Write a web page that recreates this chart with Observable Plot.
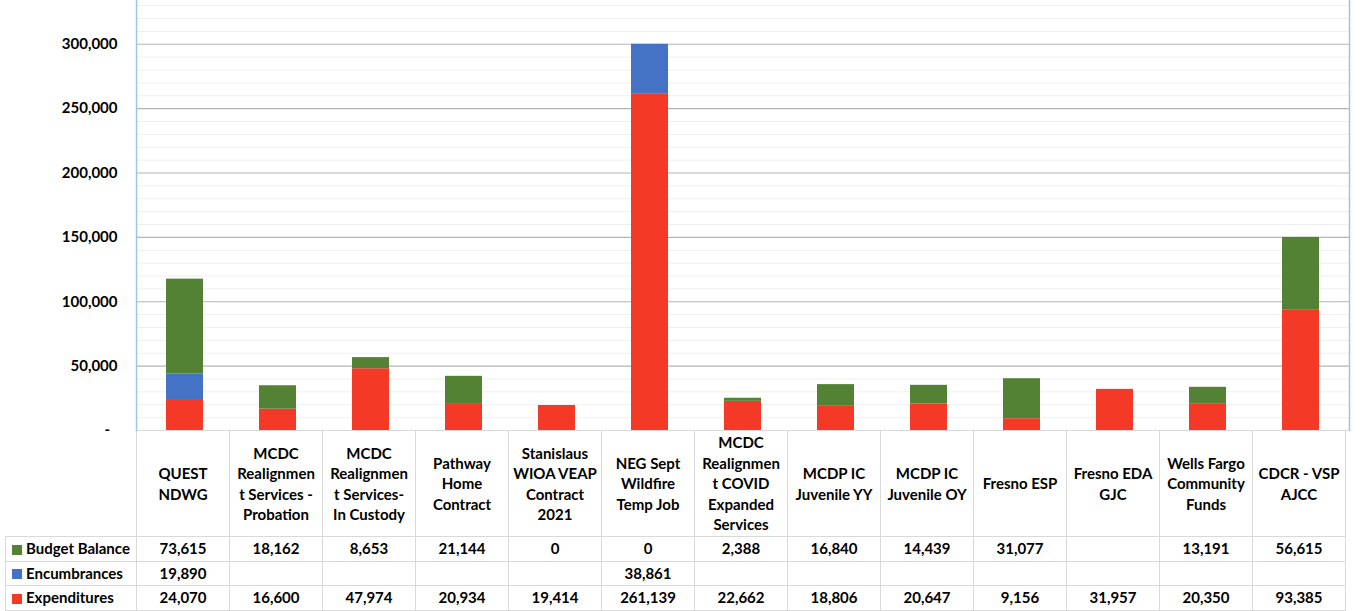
<!DOCTYPE html>
<html>
<head>
<meta charset="utf-8">
<script src="https://cdn.jsdelivr.net/npm/d3@7"></script>
<script src="https://cdn.jsdelivr.net/npm/@observablehq/plot@0.6"></script>
<style>
  html, body { margin: 0; padding: 0; background: #fff; }
  body { font-family: Lato, "Open Sans", sans-serif; color: #000; }
  #chart svg { display: block; font-weight: bold; }
  #data-table {
    border-collapse: collapse;
    table-layout: fixed;
    margin-left: 5px;
    margin-top: -10px;
    position: relative;
    font: bold 15px Lato, sans-serif;
  }
  #data-table td {
    border: 1px solid #d9d9d9;
    text-align: center;
    padding: 0;
    white-space: pre;
    line-height: 20.5px;
    overflow: hidden;
  }
  #data-table tr.head td { border-top: none; height: 105px; }
  #data-table tr.head td.corner { border-left: none; }
  #data-table tr.row td { height: 23.5px; line-height: 23.5px; }
  #data-table td.series { text-align: left; padding-left: 6px; }
  .swatch { display: inline-block; width: 10px; height: 10px; margin-right: 4px; vertical-align: -0.5px; }
</style>
</head>
<body>
<div id="chart"></div>
<script>
// Programs, with the line breaks used in the table header
const categories = [
  "QUEST\nNDWG",
  "MCDC\nRealignmen\nt Services -\nProbation",
  "MCDC\nRealignmen\nt Services-\nIn Custody",
  "Pathway\nHome\nContract",
  "Stanislaus\nWIOA VEAP\nContract\n2021",
  "NEG Sept\nWildfire\nTemp Job",
  "MCDC\nRealignmen\nt COVID\nExpanded\nServices",
  "MCDP IC\nJuvenile YY",
  "MCDP IC\nJuvenile OY",
  "Fresno ESP",
  "Fresno EDA\nGJC",
  "Wells Fargo\nCommunity\nFunds",
  "CDCR - VSP\nAJCC"
];

// Series values per program (null = empty cell)
const budgetBalance = [73615, 18162, 8653, 21144, 0, 0, 2388, 16840, 14439, 31077, null, 13191, 56615];
const encumbrances  = [19890, null, null, null, null, 38861, null, null, null, null, null, null, null];
const expenditures  = [24070, 16600, 47974, 20934, 19414, 261139, 22662, 18806, 20647, 9156, 31957, 20350, 93385];

// Table rows, top to bottom; bars stack in the reverse order
const seriesNames  = ["Budget Balance", "Encumbrances", "Expenditures"];
const seriesValues = [budgetBalance, encumbrances, expenditures];
const seriesColors = ["#548235", "#4472C4", "#F43A26"];

const yTicks      = [0, 50000, 100000, 150000, 200000, 250000, 300000];
const yMinorTicks = d3.range(10000, 340000, 10000).filter(v => v % 50000 !== 0);

const fmt = d3.format(",");

// Long-format rows, bottom segment first
const rows = [];
categories.forEach((c, i) => {
  for (let s = seriesNames.length - 1; s >= 0; s--) {
    const v = seriesValues[s][i];
    if (v != null) rows.push({program: c, series: seriesNames[s], value: v});
  }
});

const chart = Plot.plot({
  width: 1364,
  height: 441,
  marginLeft: 136,
  marginRight: 15,
  marginTop: 0,
  marginBottom: 11,
  style: {fontFamily: "Lato, sans-serif", fontSize: "15px", fontWeight: "bold", background: "#fff"},
  x: {domain: categories, paddingInner: 0.6, paddingOuter: 0.3, axis: null},
  y: {domain: [0, 334000], axis: null},
  color: {domain: seriesNames, range: seriesColors},
  marks: [
    Plot.ruleY(yMinorTicks, {stroke: "#eeeeee", strokeWidth: 1}),
    Plot.ruleY(yTicks.filter(d => d > 0), {stroke: "#b4b4b4", strokeWidth: 1.2}),
    Plot.axisY({
      ticks: yTicks,
      label: null,
      tickSize: 0,
      tickPadding: 19,
      tickFormat: d => d === 0 ? "-\u00a0\u00a0" : fmt(d),
      fill: "#000",
      fontSize: 15,
      fontWeight: "bold"
    }),
    Plot.barY(rows, {
      x: "program",
      y: "value",
      fill: "series",
      order: null
    }),
    Plot.ruleY([0], {stroke: "#d9d9d9", strokeWidth: 1}),
    Plot.frame({anchor: "left", stroke: "#9dc3e6", strokeWidth: 1.5}),
    Plot.frame({anchor: "right", stroke: "#9dc3e6", strokeWidth: 1.5})
  ]
});

document.getElementById("chart").appendChild(chart);

// Data table aligned with the band scale below the bars
const xScale = chart.scale("x");
const colWidth = xScale.step;
const legendWidth = 136 - 5;

const table = d3.select("body").append("table").attr("id", "data-table")
  .style("width", (legendWidth + colWidth * categories.length) + "px");
const colgroup = table.append("colgroup");
colgroup.append("col").style("width", legendWidth + "px");
categories.forEach(() => colgroup.append("col").style("width", colWidth + "px"));

const head = table.append("tr").attr("class", "head");
head.append("td").attr("class", "corner").style("border-top", "none").style("border-left", "none");
categories.forEach(c => head.append("td").text(c));

seriesNames.forEach((name, s) => {
  const tr = table.append("tr").attr("class", "row");
  const first = tr.append("td").attr("class", "series");
  first.append("span").attr("class", "swatch").style("background", seriesColors[s]);
  first.append("span").text(name);
  seriesValues[s].forEach(v => tr.append("td").text(v == null ? "" : fmt(v)));
});
</script>
</body>
</html>
